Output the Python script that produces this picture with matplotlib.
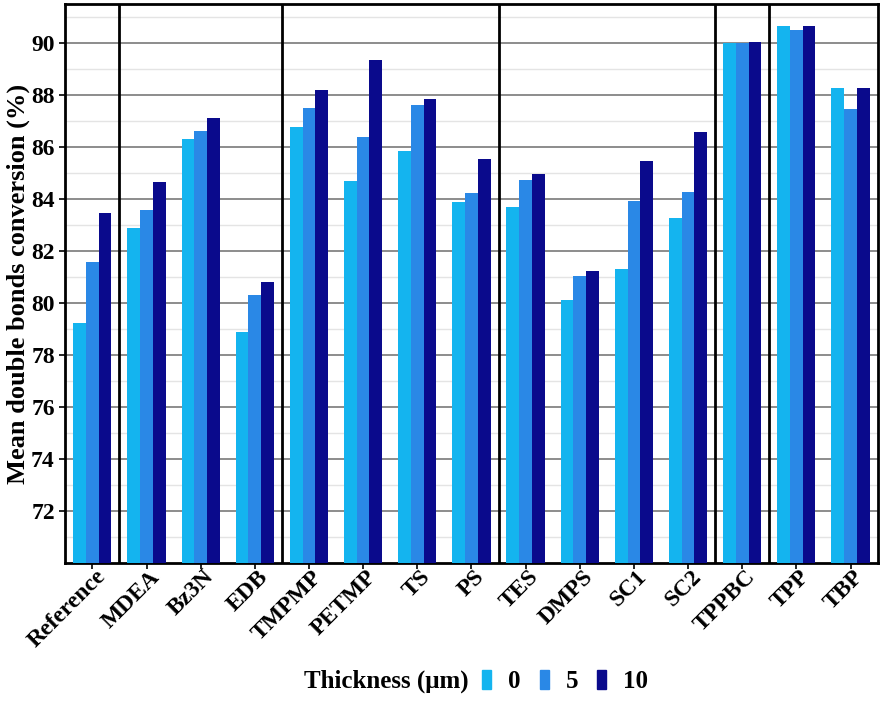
import matplotlib.pyplot as plt
import matplotlib.transforms as mtransforms
import numpy as np
from matplotlib.patches import Patch

plt.rcParams['font.family'] = 'Liberation Serif'
plt.rcParams['font.weight'] = 'bold'

cats = ['Reference', 'MDEA', 'Bz3N', 'EDB', 'TMPMP', 'PETMP', 'TS', 'PS',
        'TES', 'DMPS', 'SC1', 'SC2', 'TPPBC', 'TPP', 'TBP']
t0 = [79.25, 82.9, 86.32, 78.88, 86.78, 84.72, 85.86, 83.88,
      83.72, 80.14, 81.31, 83.27, 90.02, 90.65, 88.26]
t5 = [81.6, 83.57, 86.63, 80.33, 87.52, 86.4, 87.62, 84.23,
      84.74, 81.06, 83.95, 84.26, 89.99, 90.5, 87.48]
t10 = [83.48, 84.67, 87.14, 80.8, 88.22, 89.37, 87.84, 85.56,
       84.99, 81.24, 85.48, 86.59, 90.03, 90.67, 88.26]
thick = ['0', '5', '10']
colors = ['#14b4ef', '#2a88e6', '#0a0a8c']
groups_end = [0, 3, 7, 11, 12]

fig = plt.figure(figsize=(8.82, 7.05), dpi=100)
ax = fig.add_axes([0.074, 0.201, 0.921, 0.793])

x = np.arange(len(cats))
w = 0.235
for i, vals in enumerate([t0, t5, t10]):
    ax.bar(x + (i - 1) * w, vals, w, color=colors[i], zorder=3, label=thick[i])

for g in groups_end:
    ax.axvline(g + 0.5, color='black', lw=2, zorder=4)

ax.set_xlim(-0.5, len(cats) - 0.5)
ax.set_ylim(70, 91.5)
ax.set_yticks(np.arange(72, 91, 2))
ax.set_yticks(np.arange(71, 92, 2), minor=True)
ax.grid(axis='y', which='major', color='#8c8c8c', lw=1.4, zorder=0)
ax.grid(axis='y', which='minor', color='#e4e4e4', lw=1.0, zorder=0)
ax.tick_params(axis='y', which='minor', length=0)
ax.tick_params(axis='y', labelsize=17, length=4, width=1.2)
ax.tick_params(axis='x', length=4, width=1.2)
ax.set_xticks(x)
ax.set_xticklabels(cats, rotation=45, ha='right', va='center',
                   rotation_mode='anchor', fontsize=17, fontweight='bold')
shift = mtransforms.ScaledTranslation(10 / 100, 0, fig.dpi_scale_trans)
for lab in ax.get_xticklabels():
    lab.set_transform(lab.get_transform() + shift)
for s in ax.spines.values():
    s.set_linewidth(2)
ax.set_ylabel('Mean double bonds conversion (%)', fontsize=19,
              fontweight='bold', labelpad=1)

fig.text(0.531, 0.033, 'Thickness (\u03bcm)', fontsize=18, fontweight='bold',
         ha='right', va='center')
handles = [Patch(color=c) for c in colors]
fig.legend(handles, thick, loc='center left', bbox_to_anchor=(0.547, 0.033),
           ncol=3, frameon=False, fontsize=18, handlelength=0.36,
           handleheight=0.8, handletextpad=0.68, columnspacing=0.76,
           borderaxespad=0, borderpad=0)

fig.savefig('out.png', dpi=100)
